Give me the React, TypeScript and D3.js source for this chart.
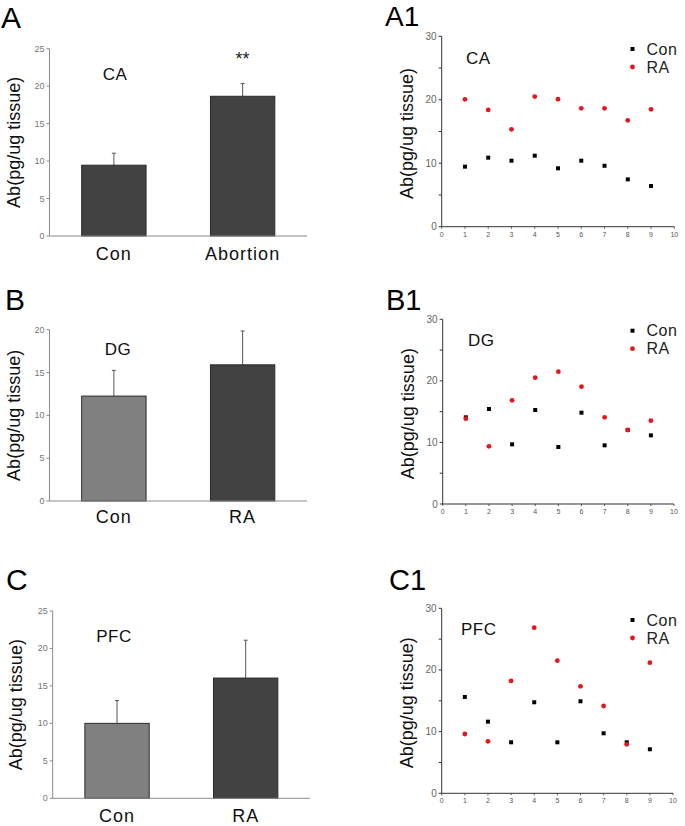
import React from "react";
import * as d3 from "d3";

// ---------- DATA ----------
const barCategoriesA = ["Con", "Abortion"];
const barMeansA = [9.45, 18.65];
const barErrA = [1.6, 1.7];

const barCategoriesB = ["Con", "RA"];
const barMeansB = [12.25, 15.9];
const barErrB = [3.0, 3.95];

const barCategoriesC = ["Con", "RA"];
const barMeansC = [10.0, 16.05];
const barErrC = [3.05, 5.05];

const scatterX = [1, 2, 3, 4, 5, 6, 7, 8, 9];
const conA1 = [9.46, 10.88, 10.4, 11.19, 9.2, 10.4, 9.6, 7.46, 6.41];
const raA1 = [20.07, 18.4, 15.35, 20.5, 20.1, 18.65, 18.65, 16.76, 18.5];
const conB1 = [14.08, 15.43, 9.69, 15.27, 9.26, 14.83, 9.53, 12.02, 11.15];
const raB1 = [13.86, 9.37, 16.84, 20.52, 21.49, 19.06, 14.08, 12.02, 13.54];
const conC1 = [15.62, 11.62, 8.27, 14.76, 8.27, 14.92, 9.73, 8.27, 7.14];
const raC1 = [9.62, 8.43, 18.22, 26.86, 21.51, 17.35, 14.16, 7.95, 21.19];

const yLabel = "Ab(pg/ug tissue)";
const FONT = "'Liberation Sans', Arial, sans-serif";

type BarProps = {
  cats: string[];
  means: number[];
  errs: number[];
  colors: string[];
  yMax: number;
  yTicks: number[];
  x0: number; x1: number; yTop: number; yBot: number;
  region: string; regionX: number; regionY: number;
  star?: string;
  catY: number;
  labelX: number;
};

function BarPanel(p: BarProps) {
  const x = d3.scaleBand<string>().domain(p.cats).range([p.x0, p.x1]).paddingInner(0.5).paddingOuter(0.25);
  const y = d3.scaleLinear().domain([0, p.yMax]).range([p.yBot, p.yTop]);
  const axisColor = "#8a8a8a";
  return (
    <g>
      {p.cats.map((c, i) => {
        const bx = x(c)!;
        const bw = x.bandwidth();
        const cx = bx + bw / 2;
        return (
          <g key={c}>
            <line x1={cx} x2={cx} y1={y(p.means[i])} y2={y(p.means[i] + p.errs[i])} stroke="#555" strokeWidth={1} />
            <line x1={cx - 2} x2={cx + 2} y1={y(p.means[i] + p.errs[i])} y2={y(p.means[i] + p.errs[i])} stroke="#555" strokeWidth={1} />
            <rect x={bx} y={y(p.means[i])} width={bw} height={p.yBot - y(p.means[i])} fill={p.colors[i]} stroke="#2a2a2a" strokeWidth={1} />
            <text x={cx} y={p.catY} textAnchor="middle" fontSize={18} letterSpacing={1} fontFamily={FONT} fill="#111">{c}</text>
            {p.star && i === 1 ? (
              <text x={cx} y={y(p.means[i] + p.errs[i]) - 19} textAnchor="middle" fontSize={18} fontFamily={FONT} fill="#222">{p.star}</text>
            ) : null}
          </g>
        );
      })}
      <line x1={p.x0} x2={p.x0} y1={p.yTop} y2={p.yBot} stroke={axisColor} strokeWidth={1} />
      <line x1={p.x0} x2={p.x1} y1={p.yBot} y2={p.yBot} stroke={axisColor} strokeWidth={1} />
      {p.yTicks.map((t) => (
        <g key={t}>
          <line x1={p.x0 - 3} x2={p.x0} y1={y(t)} y2={y(t)} stroke={axisColor} strokeWidth={1} />
          <text x={p.x0 - 5} y={y(t) + 3} textAnchor="end" fontSize={9} fontFamily={FONT} fill="#777">{t}</text>
        </g>
      ))}
      <text x={p.regionX} y={p.regionY} textAnchor="middle" fontSize={17} letterSpacing={0.5} fontFamily={FONT} fill="#111">{p.region}</text>
      <text transform={`translate(${p.labelX},${(p.yTop + p.yBot) / 2}) rotate(-90)`} textAnchor="middle" dominantBaseline="central" fontSize={18} fontFamily={FONT} fill="#111">{yLabel}</text>
    </g>
  );
}

type ScatterProps = {
  con: number[];
  ra: number[];
  x0: number; x1: number; yTop: number; yBot: number;
  region: string; regionX: number; regionY: number;
  legY: number;
  labelX: number;
};

function ScatterPanel(p: ScatterProps) {
  const x = d3.scaleLinear().domain([0, 10]).range([p.x0, p.x1]);
  const y = d3.scaleLinear().domain([0, 30]).range([p.yBot, p.yTop]);
  const axisColor = "#333";
  const yMinor = d3.range(0, 31, 5);
  const yMajor = [0, 10, 20, 30];
  const xTicks = d3.range(0, 11, 1);
  return (
    <g>
      <line x1={p.x0} x2={p.x0} y1={p.yTop} y2={p.yBot} stroke={axisColor} strokeWidth={1} />
      <line x1={p.x0} x2={p.x1} y1={p.yBot} y2={p.yBot} stroke={axisColor} strokeWidth={1} />
      {yMinor.map((t) => (
        <line key={t} x1={p.x0 - 3} x2={p.x0} y1={y(t)} y2={y(t)} stroke={axisColor} strokeWidth={1} />
      ))}
      {yMajor.map((t) => (
        <text key={t} x={p.x0 - 5} y={y(t) + 3.5} textAnchor="end" fontSize={10} fontFamily={FONT} fill="#666">{t}</text>
      ))}
      {xTicks.map((t) => (
        <g key={t}>
          <line x1={x(t)} x2={x(t)} y1={p.yBot} y2={p.yBot + 2} stroke={axisColor} strokeWidth={0.8} />
          <text x={x(t)} y={p.yBot + 10} textAnchor="middle" fontSize={7} fontFamily={FONT} fill="#555">{t}</text>
        </g>
      ))}
      {scatterX.map((xv, i) => (
        <rect key={"c" + i} x={x(xv) - 2} y={y(p.con[i]) - 2} width={4} height={4} fill="#000" />
      ))}
      {scatterX.map((xv, i) => (
        <circle key={"r" + i} cx={x(xv)} cy={y(p.ra[i])} r={2.4} fill="#e8141a" />
      ))}
      <text x={p.regionX} y={p.regionY} fontSize={17} letterSpacing={0.5} fontFamily={FONT} fill="#111">{p.region}</text>
      <rect x={630.5} y={p.legY - 2} width={4} height={4} fill="#000" />
      <text x={646.5} y={p.legY + 5.5} fontSize={16} letterSpacing={0.5} fontFamily={FONT} fill="#222">Con</text>
      <circle cx={632.5} cy={p.legY + 18} r={2.4} fill="#e8141a" />
      <text x={646.5} y={p.legY + 23.5} fontSize={16} letterSpacing={0.5} fontFamily={FONT} fill="#222">RA</text>
      <text transform={`translate(${p.labelX},${(p.yTop + p.yBot) / 2 + 2}) rotate(-90)`} textAnchor="middle" dominantBaseline="central" fontSize={18} fontFamily={FONT} fill="#111">{yLabel}</text>
    </g>
  );
}

export default function App() {
  const dark = "#424242";
  const grey = "#808080";
  return (
    <svg width={685} height={826} style={{ position: "absolute", left: 0, top: 0, background: "#fff" }}>
      <rect width={685} height={826} fill="#fff" />
      {/* Panel letters */}
      <text x={1} y={28} fontSize={30} fontFamily={FONT} fill="#000">A</text>
      <text x={385} y={26} fontSize={28} fontFamily={FONT} fill="#000">A1</text>
      <text x={5} y={310} fontSize={30} fontFamily={FONT} fill="#000">B</text>
      <text x={386} y={310} fontSize={29} fontFamily={FONT} fill="#000">B1</text>
      <text x={6} y={590} fontSize={30} fontFamily={FONT} fill="#000">C</text>
      <text x={389} y={590} fontSize={29} fontFamily={FONT} fill="#000">C1</text>

      <BarPanel cats={barCategoriesA} means={barMeansA} errs={barErrA} colors={[dark, dark]} yMax={25} yTicks={[0, 5, 10, 15, 20, 25]}
        x0={49.5} x1={307} yTop={48.7} yBot={236} region="CA" regionX={115} regionY={80} star="**" catY={260} labelX={14} />
      <BarPanel cats={barCategoriesB} means={barMeansB} errs={barErrB} colors={[grey, dark]} yMax={20} yTicks={[0, 5, 10, 15, 20]}
        x0={49.5} x1={307} yTop={329.7} yBot={501} region="DG" regionX={118} regionY={355} catY={523} labelX={14} />
      <BarPanel cats={barCategoriesC} means={barMeansC} errs={barErrC} colors={[grey, dark]} yMax={25} yTicks={[0, 5, 10, 15, 20, 25]}
        x0={52.7} x1={310} yTop={611} yBot={798.3} region="PFC" regionX={114} regionY={642} catY={821.5} labelX={16} />

      <ScatterPanel con={conA1} ra={raA1} x0={441.7} x1={674.3} yTop={36.3} yBot={226.7} region="CA" regionX={466} regionY={64} legY={49} labelX={407} />
      <ScatterPanel con={conB1} ra={raB1} x0={442.7} x1={674} yTop={319.3} yBot={504} region="DG" regionX={468} regionY={346} legY={330.7} labelX={408} />
      <ScatterPanel con={conC1} ra={raC1} x0={441.7} x1={673} yTop={608.3} yBot={793.3} region="PFC" regionX={461} regionY={635} legY={620} labelX={407} />
    </svg>
  );
}
